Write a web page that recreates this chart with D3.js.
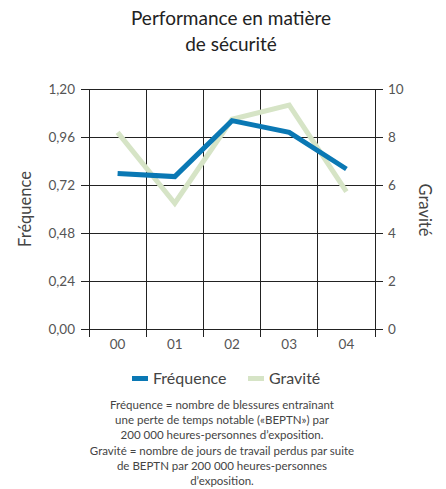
<!DOCTYPE html>
<html><head><meta charset="utf-8">
<script src="https://cdn.jsdelivr.net/npm/d3@7"></script>
<style>body{margin:0;background:#fff;} svg{display:block;font-family:Lato, "Open Sans", sans-serif;}</style>
</head><body><svg id="c" width="446" height="489"></svg>
<script>
const years = ["00","01","02","03","04"];
const frequence = [0.778, 0.762, 1.042, 0.983, 0.80];
const gravite = [8.19, 5.24, 8.74, 9.33, 5.72];
const leftTicks = [0, 0.24, 0.48, 0.72, 0.96, 1.20];
const rightTicks = [0, 2, 4, 6, 8, 10];
const titleLines = ["Performance en matière", "de sécurité"];
const noteLines = [
  "Fréquence = nombre de blessures entraînant",
  "une perte de temps notable («BEPTN») par",
  "200 000 heures-personnes d’exposition.",
  "Gravité = nombre de jours de travail perdus par suite",
  "de BEPTN par 200 000 heures-personnes",
  "d’exposition."
];
const blue = "#0a78b4", green = "#d6e4c6";

const svg = d3.select("#c");
const L = 89, R = 375, T = 89, B = 329;
const x = d3.scaleBand().domain(years).range([L, R]);
const yL = d3.scaleLinear().domain([0, 1.2]).range([B, T]);
const yR = d3.scaleLinear().domain([0, 10]).range([B, T]);

svg.append("g").selectAll("text").data(titleLines).join("text")
  .attr("x", 231).attr("y", (d,i)=>25 + i*26).attr("text-anchor","middle")
  .attr("font-size", 19).attr("fill","#222").text(d=>d);

const gridC = "#222";
svg.append("g").selectAll("line").data(leftTicks).join("line")
  .attr("x1", L-8).attr("x2", R+8).attr("y1", d=>yL(d)).attr("y2", d=>yL(d))
  .attr("stroke", gridC).attr("stroke-width", 1).attr("shape-rendering","crispEdges");
const xb = years.map(d=>x(d)).concat([R]);
svg.append("g").selectAll("line").data(xb).join("line")
  .attr("x1", d=>d).attr("x2", d=>d).attr("y1", T).attr("y2", B+8)
  .attr("stroke", gridC).attr("stroke-width", 1).attr("shape-rendering","crispEdges");

const tc = "#555";
svg.append("g").selectAll("text").data(leftTicks).join("text")
  .attr("x", 75).attr("y", d=>yL(d)+5).attr("text-anchor","end")
  .attr("font-size", 13.5).attr("fill", tc).text(d=>d3.format(".2f")(d).replace(".", ","));
svg.append("g").selectAll("text").data(rightTicks).join("text")
  .attr("x", 388).attr("y", d=>yR(d)+5).attr("text-anchor","start")
  .attr("font-size", 13.5).attr("fill", tc).text(d=>d);
svg.append("g").selectAll("text").data(years).join("text")
  .attr("x", d=>x(d)+x.bandwidth()/2).attr("y", 349).attr("text-anchor","middle")
  .attr("font-size", 13.5).attr("fill", tc).text(d=>d);

svg.append("text").attr("transform","translate(31,209) rotate(-90)").attr("text-anchor","middle")
  .attr("font-size", 16.5).attr("fill", "#444").text("Fréquence");
svg.append("text").attr("transform","translate(419,210) rotate(90)").attr("text-anchor","middle")
  .attr("font-size", 16.5).attr("fill", "#444").text("Gravité");

const cx = d=>x(d)+x.bandwidth()/2;
svg.append("path").datum(gravite.map((v,i)=>[cx(years[i]), yR(v)]))
  .attr("d", d3.line()).attr("fill","none").attr("stroke", green).attr("stroke-width", 5);
svg.append("path").datum(frequence.map((v,i)=>[cx(years[i]), yL(v)]))
  .attr("d", d3.line()).attr("fill","none").attr("stroke", blue).attr("stroke-width", 5);

const leg = [{n:"Fréquence", c:blue, x:132}, {n:"Gravité", c:green, x:248}];
const lg = svg.append("g").selectAll("g").data(leg).join("g");
lg.append("rect").attr("x", d=>d.x).attr("y", 376).attr("width", 16).attr("height", 5).attr("fill", d=>d.c);
lg.append("text").attr("x", d=>d.x+21).attr("y", 384).attr("font-size", 16).attr("fill","#444").text(d=>d.n);

svg.append("g").selectAll("text").data(noteLines).join("text")
  .attr("x", 222).attr("y", (d,i)=>409 + i*15.2).attr("text-anchor","middle")
  .attr("font-size", 11.5).attr("fill","#444").text(d=>d);
</script></body></html>
